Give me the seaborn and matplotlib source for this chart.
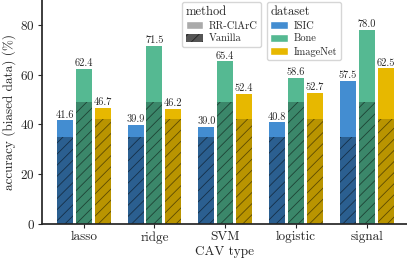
import pandas as pd
import numpy as np
import matplotlib.pyplot as plt
import seaborn as sns
from matplotlib.patches import Patch

cav_types = ['lasso', 'ridge', 'SVM', 'logistic', 'signal']
datasets = ['ISIC', 'Bone', 'ImageNet']

# RR-ClArC accuracy on biased data (%)
rr_isic = [41.6, 39.9, 39.0, 40.8, 57.5]
rr_bone = [62.4, 71.5, 65.4, 58.6, 78.0]
rr_imagenet = [46.7, 46.2, 52.4, 52.7, 62.5]

# Vanilla model accuracy (same for every CAV type)
van_isic = [35.0, 35.0, 35.0, 35.0, 35.0]
van_bone = [49.0, 49.0, 49.0, 49.0, 49.0]
van_imagenet = [42.1, 42.1, 42.1, 42.1, 42.1]

light = {'ISIC': '#438dd1', 'Bone': '#55b992', 'ImageNet': '#e7b800'}
dark = {'ISIC': '#2b5f90', 'Bone': '#3b876a', 'ImageNet': '#b99400'}


def long_df(isic, bone, imagenet):
    rows = []
    for name, vals in zip(datasets, [isic, bone, imagenet]):
        for cav, v in zip(cav_types, vals):
            rows.append({'cav': cav, 'dataset': name, 'acc': v})
    return pd.DataFrame(rows)


def main():
    sns.set_theme(style='ticks')
    plt.rcParams['font.family'] = ['cmr10']
    plt.rcParams['mathtext.fontset'] = 'cm'
    plt.rcParams['axes.unicode_minus'] = False
    plt.rcParams['axes.formatter.use_mathtext'] = True
    plt.rcParams['hatch.linewidth'] = 0.6

    df_rr = long_df(rr_isic, rr_bone, rr_imagenet)
    df_van = long_df(van_isic, van_bone, van_imagenet)

    fig = plt.figure(figsize=(4.07, 2.62), dpi=100)
    ax = fig.add_axes([0.103, 0.145, 0.897, 0.855])

    sns.barplot(data=df_rr, x='cav', y='acc', hue='dataset', order=cav_types,
                hue_order=datasets, palette=light, saturation=1, errorbar=None,
                width=0.8, gap=0.15, linewidth=0, legend=False, ax=ax)
    for cont in ax.containers:
        ax.bar_label(cont, fmt='%.1f', fontsize=7.5, padding=0.5)

    sns.barplot(data=df_van, x='cav', y='acc', hue='dataset', order=cav_types,
                hue_order=datasets, palette=dark, saturation=1, errorbar=None,
                width=0.8, gap=0.15, linewidth=0, edgecolor=(0, 0, 0, 0.5),
                hatch='///', legend=False, ax=ax)

    ax.set_ylim(0, 90)
    ax.set_xlim(-0.59, 4.57)
    ax.set_yticks([0, 20, 40, 60, 80])
    ax.set_xlabel('CAV type', fontsize=9.5, labelpad=2)
    ax.set_ylabel('accuracy (biased data) (%)', fontsize=9.5, labelpad=3)
    ax.tick_params(labelsize=9.5, length=3, width=0.8, pad=2)
    sns.despine(ax=ax)

    legend_kw = dict(loc='upper left', fontsize=7.5, title_fontsize=9,
                     alignment='left', borderaxespad=0, handlelength=1.7,
                     handleheight=0.8, handletextpad=0.5, labelspacing=0.3,
                     borderpad=0.35)

    method_handles = [Patch(facecolor='#aaaaaa', label='RR-ClArC'),
                      Patch(facecolor='#555555', edgecolor=(0, 0, 0, 0.6),
                            linewidth=0, hatch='///', label='Vanilla')]
    leg1 = ax.legend(handles=method_handles, title='method',
                     bbox_to_anchor=(0.384, 0.99), **legend_kw)
    ax.add_artist(leg1)

    data_handles = [Patch(facecolor=light[d], label=d) for d in datasets]
    ax.legend(handles=data_handles, title='dataset',
              bbox_to_anchor=(0.616, 0.99), **legend_kw)

    fig.savefig('out.png', dpi=100)


if __name__ == '__main__':
    main()
